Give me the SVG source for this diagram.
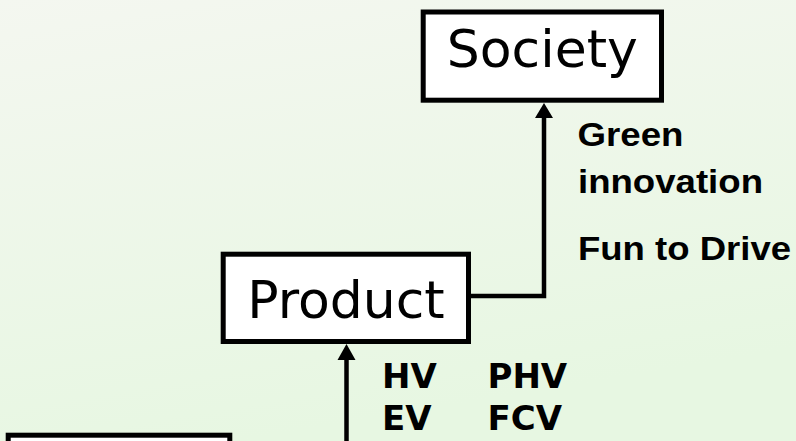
<svg xmlns="http://www.w3.org/2000/svg" width="796" height="441" viewBox="0 0 796 441">
<defs>
<linearGradient id="bg" x1="0" y1="0" x2="0.3" y2="1">
<stop offset="0" stop-color="#f4f7f0"/>
<stop offset="1" stop-color="#e7f7e2"/>
</linearGradient>
</defs>
<style>
.box{fill:#fff;stroke:#000;stroke-width:5}
.title{font-family:"DejaVu Sans",Verdana,sans-serif;font-size:52px;fill:#000;text-anchor:middle}
.lbl{font-family:"Liberation Sans",Arial,sans-serif;font-weight:bold;font-size:33px;fill:#000}
.tech{font-family:"DejaVu Sans",Verdana,sans-serif;font-weight:bold;font-size:34px;fill:#000}
.line{fill:none;stroke:#000;stroke-width:4.5}
.head{fill:#000}
</style>
<rect width="796" height="441" fill="url(#bg)"/>
<g id="connectors">
<path class="line" d="M471 296 H544 V116"/>
<polygon class="head" points="544,103 535,118 553,118"/>
<path class="line" d="M346.5 445 V358"/>
<polygon class="head" points="346.5,344 337.5,360 355.5,360"/>
</g>
<g id="society">
<rect class="box" x="423.2" y="12" width="238.3" height="88.2"/>
<text class="title" x="542.3" y="67">Society</text>
</g>
<g id="product">
<rect class="box" x="223.2" y="254.2" width="245.3" height="87.3"/>
<text class="title" x="346" y="318">Product</text>
</g>
<g id="bottom-box">
<rect class="box" x="8.2" y="435.2" width="221.6" height="40"/>
</g>
<g id="labels">
<text class="lbl" x="577.5" y="146" textLength="106" lengthAdjust="spacingAndGlyphs">Green</text>
<text class="lbl" x="578" y="192.5" textLength="185" lengthAdjust="spacingAndGlyphs">innovation</text>
<text class="lbl" x="578" y="259.5" textLength="213" lengthAdjust="spacingAndGlyphs">Fun to Drive</text>
<text class="tech" x="382" y="388">HV</text>
<text class="tech" x="487.5" y="388">PHV</text>
<text class="tech" x="382" y="429.5">EV</text>
<text class="tech" x="487.5" y="429.5">FCV</text>
</g>
</svg>
